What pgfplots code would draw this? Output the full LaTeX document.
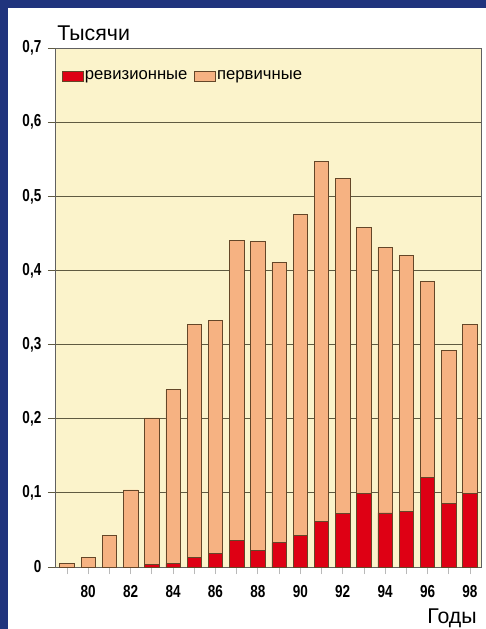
\documentclass[border=0pt]{standalone}
\usepackage{pgfplots}
\pgfplotsset{compat=1.18}
\usepackage{fontspec}
\setmainfont{Liberation Sans}
\newfontfamily\condfont[FakeStretch=0.78]{Liberation Sans}
\definecolor{bgblue}{RGB}{32,52,125}
\definecolor{plotbg}{RGB}{251,243,203}
\definecolor{peach}{RGB}{246,178,130}
\definecolor{redbar}{RGB}{222,0,20}
\definecolor{edge}{RGB}{100,70,40}
\definecolor{gridc}{RGB}{95,90,65}
\begin{document}
\begin{tikzpicture}
\fill[bgblue] (-41.25pt,-46.5pt) rectangle (323.25pt,425.25pt);
\fill[white] (-35.25pt,-46.5pt) rectangle (323.25pt,419.25pt);
\begin{axis}[
  at={(0pt,0pt)}, anchor=south west,
  scale only axis, width=319.5pt, height=389.25pt,
  xmin=78.434, xmax=98.52, ymin=0, ymax=0.7,
  axis background/.style={fill=plotbg},
  ybar stacked, bar width=0.68,
  xtick={80,82,84,86,88,90,92,94,96,98},
  xticklabels={80,82,84,86,88,90,92,94,96,98},
  minor xtick={79,81,83,85,87,89,91,93,95,97},
  ytick={0,0.1,0.2,0.3,0.4,0.5,0.6,0.7},
  yticklabels={0,{0,1},{0,2},{0,3},{0,4},{0,5},{0,6},{0,7}},
  ymajorgrids, grid style={gridc, line width=0.6pt},
  tick align=outside, tick pos=left,
  major tick length=5.25pt, minor tick length=5.25pt,
  x tick style={gray!55, line width=0.6pt},
  minor x tick style={gray!55, line width=0.6pt},
  y tick style={gridc, line width=0.6pt},
  axis line style={draw=gray!75!black, line width=0.5pt},
  xticklabel style={font=\condfont\bfseries\fontsize{13}{14}\selectfont, yshift=-5pt},
  yticklabel style={font=\condfont\bfseries\fontsize{13}{14}\selectfont, xshift=-1.5pt},
  clip=false,
  legend style={at={(axis description cs:0,1)}, anchor=north west, xshift=2pt, yshift=-14pt,
    draw=none, fill=none, font=\fontsize{12.5}{14}\selectfont,
    nodes={inner sep=1pt}, /tikz/every even column/.append style={column sep=4pt}},
  legend columns=2,
]
\addplot+[fill=redbar, draw=edge, line width=0.5pt,
  legend image code/.code={\draw[fill=redbar, draw=edge, line width=0.5pt] (0pt,-4pt) rectangle (15.75pt,4pt);}]
coordinates {(79,0) (80,0) (81,0) (82,0) (83,0.004) (84,0.005) (85,0.013) (86,0.018) (87,0.036) (88,0.022) (89,0.033) (90,0.043) (91,0.062) (92,0.072) (93,0.099) (94,0.073) (95,0.075) (96,0.121) (97,0.086) (98,0.099)};
\addlegendentry{ревизионные}
\addplot+[fill=peach, draw=edge, line width=0.5pt,
  legend image code/.code={\draw[fill=peach, draw=edge, line width=0.5pt] (0pt,-4pt) rectangle (15.75pt,4pt);}]
coordinates {(79,0.005) (80,0.013) (81,0.043) (82,0.104) (83,0.197) (84,0.234) (85,0.314) (86,0.315) (87,0.405) (88,0.417) (89,0.378) (90,0.432) (91,0.485) (92,0.452) (93,0.359) (94,0.358) (95,0.345) (96,0.264) (97,0.206) (98,0.228)};
\addlegendentry{первичные}
\node[anchor=base west, inner sep=0pt, font=\fontsize{16}{18}\selectfont] at (rel axis cs:0,1) [xshift=1.5pt, yshift=6pt] {Тысячи};
\node[anchor=base east, inner sep=0pt, font=\fontsize{16}{18}\selectfont] at (rel axis cs:1,0) [xshift=-3pt, yshift=-42pt] {Годы};
\end{axis}
\end{tikzpicture}
\end{document}
